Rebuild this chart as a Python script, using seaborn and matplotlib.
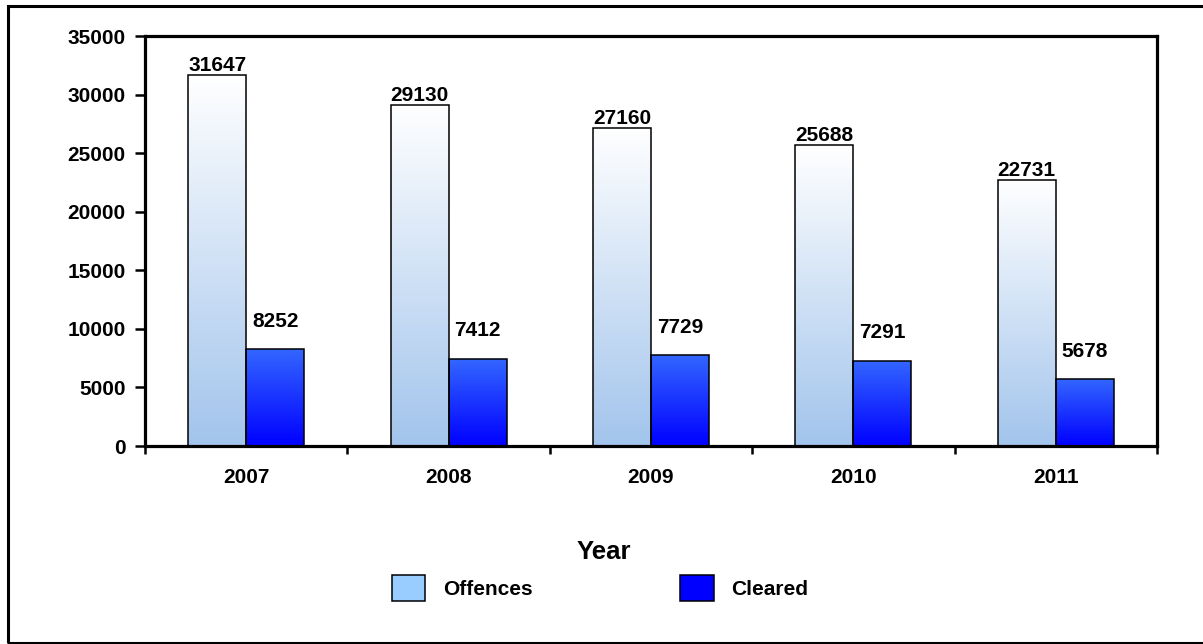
import numpy as np
import pandas as pd
import matplotlib
matplotlib.use("Agg")
import matplotlib.pyplot as plt
import seaborn as sns
from matplotlib.patches import Patch, Rectangle
from matplotlib.colors import LinearSegmentedColormap

years = ["2007", "2008", "2009", "2010", "2011"]
offences = [31647, 29130, 27160, 25688, 22731]
cleared = [8252, 7412, 7729, 7291, 5678]
series = ["Offences", "Cleared"]
y_ticks = [0, 5000, 10000, 15000, 20000, 25000, 30000, 35000]

legend_colors = {"Offences": "#99ccff", "Cleared": "#0000ff"}
grad_top = {"Offences": "#ffffff", "Cleared": "#3366ff"}
grad_bottom = {"Offences": "#a2c4ec", "Cleared": "#0000ff"}
label_pad = {"Offences": 0, "Cleared": 13.5}

df = pd.DataFrame({
    "Year": years * 2,
    "Series": ["Offences"] * len(years) + ["Cleared"] * len(years),
    "Value": offences + cleared,
})

sns.set_theme(style="white")
plt.rcParams["font.family"] = ["Liberation Sans", "DejaVu Sans"]
plt.rcParams["font.weight"] = "bold"
plt.rcParams["text.color"] = "black"
plt.rcParams["axes.labelcolor"] = "black"
plt.rcParams["xtick.color"] = "black"
plt.rcParams["ytick.color"] = "black"

W, H = 1203, 644
fig = plt.figure(figsize=(W / 100, H / 100), dpi=100)
fig.patch.set_facecolor("white")
ax = fig.add_axes([145 / W, 1 - 446 / H, (1157 - 145) / W, (446 - 36) / H])

sns.barplot(data=df, x="Year", y="Value", hue="Series", hue_order=series,
            palette=legend_colors, width=0.573, ax=ax, legend=False,
            edgecolor="black", linewidth=1.1, saturation=1)

ax.set_xlim(-0.5, len(years) - 0.5)
ax.set_ylim(0, 35000)

# gradient fills clipped to each bar
for cont, name in zip(ax.containers, series):
    cmap = LinearSegmentedColormap.from_list(name, [grad_bottom[name], grad_top[name]])
    grad = np.linspace(0, 1, 256).reshape(-1, 1)
    for bar in cont.patches:
        x0, y0 = bar.get_x(), bar.get_y()
        w, h = bar.get_width(), bar.get_height()
        im = ax.imshow(grad, cmap=cmap, origin="lower", aspect="auto",
                       extent=[x0, x0 + w, y0, y0 + h], zorder=bar.get_zorder() - 0.1,
                       interpolation="bilinear")
        im.set_clip_path(bar)
        bar.set_facecolor("none")
    ax.bar_label(cont, labels=[str(int(v)) for v in cont.datavalues], padding=label_pad[name],
                 fontsize=15, fontweight="bold", color="black")

ax.set_xlim(-0.5, len(years) - 0.5)
ax.set_ylim(0, 35000)

ax.set_yticks(y_ticks)
ax.set_yticklabels([str(t) for t in y_ticks], fontsize=15, fontweight="bold", color="black")
ax.tick_params(axis="y", direction="out", length=7, width=1.8, pad=7, left=True, color="black")
ax.tick_params(axis="x", length=0, pad=16, labelsize=15, labelcolor="black")
for lab in ax.get_xticklabels():
    lab.set_fontweight("bold")
ax.set_xticks(np.arange(-0.5, len(years), 1.0), minor=True)
ax.tick_params(axis="x", which="minor", direction="out", length=6, width=1.8, bottom=True, color="black")

for sp in ax.spines.values():
    sp.set_visible(True)
    sp.set_color("black")
    sp.set_linewidth(2.3)

ax.set_ylabel("")
ax.set_xlabel("Year", fontsize=18.5, fontweight="bold", color="black")
ax.xaxis.set_label_coords((604 - 145) / 1012, -(552 - 446) / 410)
ax.xaxis.label.set_va("center")

handles = [Patch(facecolor=legend_colors[s], edgecolor="black", linewidth=1.1, label=s) for s in series]
leg = fig.legend(handles=handles, loc="center", bbox_to_anchor=(600 / W, 1 - 588 / H), ncol=2,
                 frameon=False, prop={"weight": "bold", "size": 15},
                 handlelength=1.6, handleheight=1.55, handletextpad=0.85, columnspacing=7.1)
for t in leg.get_texts():
    t.set_color("black")

fig.add_artist(Rectangle((8 / W, 1 - 642.5 / H), (1215 - 8) / W, (642.5 - 6) / H,
                         transform=fig.transFigure, fill=False, edgecolor="black", linewidth=2.2))

fig.savefig("out.png", dpi=100, facecolor="white")
